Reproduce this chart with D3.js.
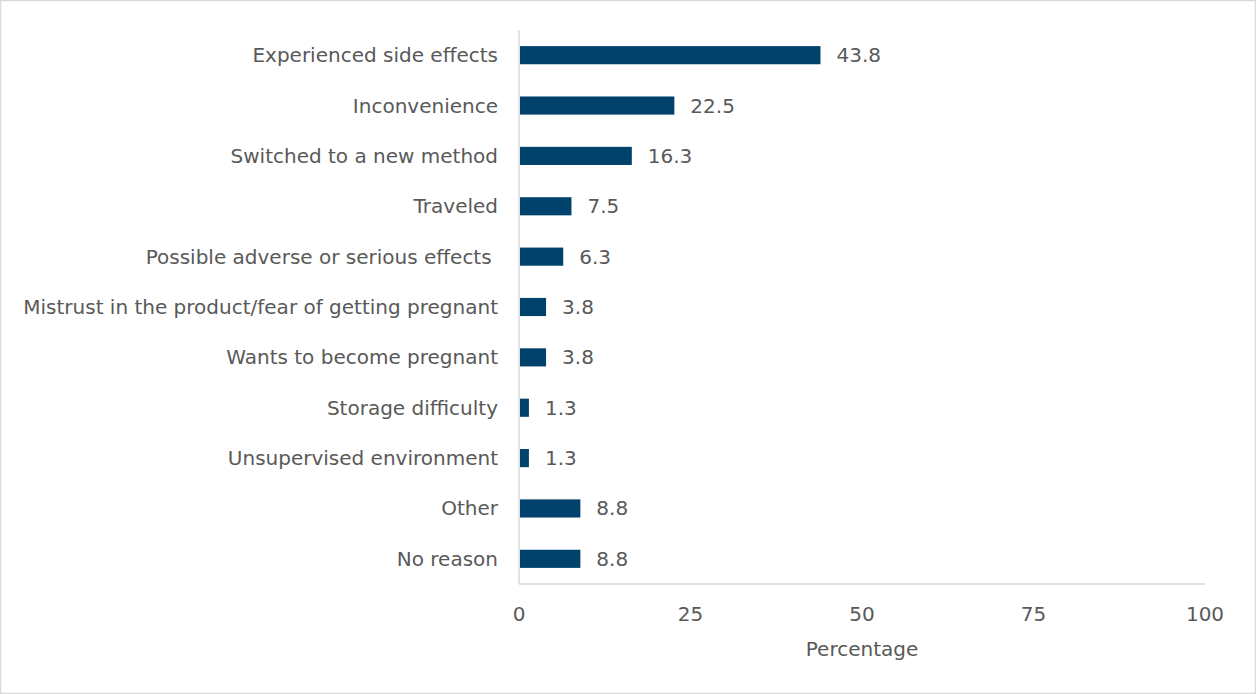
<!DOCTYPE html>
<html><head><meta charset="utf-8">
<script src="https://cdn.jsdelivr.net/npm/d3@7"></script>
<style>
html,body{margin:0;padding:0;background:#fff;}
svg text{font-family:"DejaVu Sans",sans-serif;fill:#595959;white-space:pre;}
</style></head>
<body>
<script>
const categories = [
  "Experienced side effects",
  "Inconvenience",
  "Switched to a new method",
  "Traveled",
  "Possible adverse or serious effects ",
  "Mistrust in the product/fear of getting pregnant",
  "Wants to become pregnant",
  "Storage difficulty",
  "Unsupervised environment",
  "Other",
  "No reason"
];
const values = [43.8, 22.5, 16.3, 7.5, 6.3, 3.8, 3.8, 1.3, 1.3, 8.8, 8.8];
const xTicks = [0, 25, 50, 75, 100];
const xTitle = "Percentage";

const W = 1256, H = 694;
const m = {left: 519, right: 51, top: 30, bottom: 110};
const svg = d3.select("body").append("svg").attr("width", W).attr("height", H);

svg.append("rect").attr("x", 0.5).attr("y", 0.5).attr("width", W - 1).attr("height", H - 1)
  .attr("fill", "#fff").attr("stroke", "#d9d9d9").attr("stroke-width", 1.5);

const x = d3.scaleLinear().domain([0, 100]).range([m.left, W - m.right]);
const y = d3.scaleBand().domain(categories).range([m.top, H - m.bottom]).paddingInner(0.64).paddingOuter(0.32);

svg.append("line").attr("x1", x(0)).attr("x2", x(100)).attr("y1", H - m.bottom).attr("y2", H - m.bottom)
  .attr("stroke", "#d9d9d9").attr("stroke-width", 1.5);
svg.append("line").attr("x1", x(0)).attr("x2", x(0)).attr("y1", m.top).attr("y2", H - m.bottom)
  .attr("stroke", "#d9d9d9").attr("stroke-width", 1.5);

svg.selectAll("rect.bar").data(categories).join("rect").attr("class", "bar")
  .attr("x", x(0) + 1).attr("y", d => y(d))
  .attr("width", (d, i) => x(values[i]) - x(0))
  .attr("height", y.bandwidth())
  .attr("fill", "#00426B");

const fs = 20;
svg.selectAll("text.val").data(categories).join("text").attr("class", "val")
  .attr("x", (d, i) => x(values[i]) + 17)
  .attr("y", d => y(d) + y.bandwidth() / 2)
  .attr("dy", "0.35em").attr("font-size", fs)
  .text((d, i) => values[i].toFixed(1));

svg.selectAll("text.cat").data(categories).join("text").attr("class", "cat")
  .attr("x", x(0) - 21)
  .attr("y", d => y(d) + y.bandwidth() / 2)
  .attr("dy", "0.35em").attr("text-anchor", "end").attr("font-size", fs)
  .text(d => d);

svg.selectAll("text.tick").data(xTicks).join("text").attr("class", "tick")
  .attr("x", d => x(d)).attr("y", H - m.bottom + 30)
  .attr("dy", "0.35em").attr("text-anchor", "middle").attr("font-size", fs)
  .text(d => d);

svg.append("text").attr("x", (x(0) + x(100)) / 2).attr("y", H - m.bottom + 65)
  .attr("dy", "0.35em").attr("text-anchor", "middle").attr("font-size", fs)
  .text(xTitle);
</script>
</body></html>
